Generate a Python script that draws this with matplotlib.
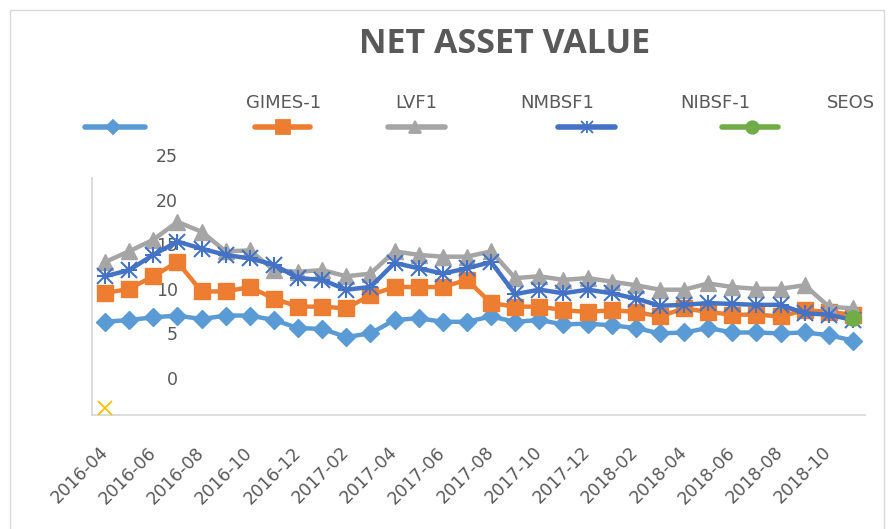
import numpy as np
import matplotlib
matplotlib.use('Agg')
import matplotlib.pyplot as plt
from matplotlib.lines import Line2D
from matplotlib.patches import Rectangle

# monthly observations, 2016-04 .. 2018-11
months = ['2016-04', '2016-05', '2016-06', '2016-07', '2016-08', '2016-09',
          '2016-10', '2016-11', '2016-12', '2017-01', '2017-02', '2017-03',
          '2017-04', '2017-05', '2017-06', '2017-07', '2017-08', '2017-09',
          '2017-10', '2017-11', '2017-12', '2018-01', '2018-02', '2018-03',
          '2018-04', '2018-05', '2018-06', '2018-07', '2018-08', '2018-09',
          '2018-10', '2018-11']

s_blue = [6.3, 6.5, 6.8, 7.0, 6.6, 7.0, 7.0, 6.5, 5.6, 5.5, 4.6, 5.0,
          6.5, 6.7, 6.3, 6.3, 6.9, 6.3, 6.5, 6.0, 6.1, 5.9, 5.6, 5.0,
          5.1, 5.6, 5.1, 5.1, 5.0, 5.1, 4.8, 4.2]
s_orange = [9.5, 10.0, 11.4, 13.0, 9.7, 9.7, 10.2, 8.9, 8.0, 8.0, 7.8, 9.3,
            10.2, 10.2, 10.2, 11.0, 8.4, 8.0, 8.0, 7.6, 7.4, 7.6, 7.4, 6.9,
            7.8, 7.4, 7.1, 7.1, 6.9, 7.6, 7.4, 7.1]
s_gray = [13.0, 14.2, 15.5, 17.5, 16.4, 14.2, 14.3, 12.1, 11.9, 12.1, 11.4, 11.7,
          14.2, 13.8, 13.6, 13.6, 14.2, 11.2, 11.4, 11.0, 11.2, 10.8, 10.4, 9.9,
          9.9, 10.6, 10.2, 10.0, 10.0, 10.4, 8.0, 7.8]
s_navy = [11.4, 12.1, 13.8, 15.3, 14.5, 13.8, 13.4, 12.7, 11.2, 11.0, 9.9, 10.2,
          12.9, 12.3, 11.7, 12.3, 13.0, 9.4, 9.9, 9.5, 9.9, 9.5, 8.9, 8.1,
          8.2, 8.4, 8.3, 8.2, 8.2, 7.25, 7.1, 6.5]
s_green = [np.nan] * 31 + [6.7]
s_yellow = [-3.4] + [np.nan] * 31

legend_labels = ['GIMES-1', 'LVF1', 'NMBSF1', 'NIBSF-1', 'SEOS']
yticks = [0, 5, 10, 15, 20, 25]

TXT = '#595959'
W, H = 890, 529

fig = plt.figure(figsize=(W / 100, H / 100), dpi=100)
ax = fig.add_axes([92 / W, 1 - 415 / H, (865 - 92) / W, (415 - 150) / H])

x = np.arange(len(months))
ax.plot(x, s_blue, color='#5B9BD5', lw=3.2, marker='D', ms=9, zorder=3)
ax.plot(x, s_orange, color='#ED7D31', lw=3.2, marker='s', ms=12, zorder=4)
ax.plot(x, s_gray, color='#A5A5A5', lw=3.2, marker='^', ms=11, zorder=5)
ax.plot(x, s_navy, color='#4472C4', lw=3.2, marker='x', ms=11, mew=1.5, zorder=6)
ax.plot(x, s_navy, color='#4472C4', lw=0, marker='+', ms=12, mew=1.5, zorder=6)
ax.plot(x, s_green, color='#70AD47', lw=3.2, marker='o', ms=11, zorder=7)
ax.plot(x, s_yellow, color='#FFC000', lw=0, marker='x', ms=10, mew=1.3, zorder=7)

ax.set_xlim(-0.54, 31.5)
ax.set_ylim(-4.15, 25.56)

for side in ['top', 'right']:
    ax.spines[side].set_visible(False)
ax.spines['left'].set_color('#D9D9D9')
ax.spines['bottom'].set_color('#D9D9D9')
ax.spines['left'].set_linewidth(1.3)
ax.spines['bottom'].set_linewidth(1.3)
ax.spines['left'].set_bounds(-4.15, 22.4)

ax.set_yticks(yticks)
ax.set_yticklabels([str(v) for v in yticks])
ax.tick_params(axis='y', length=0, pad=-62, labelsize=12.5, labelcolor=TXT)

ax.set_xticks(x[::2])
ax.set_xticklabels(months[::2], rotation=45, ha='right', va='center',
                   rotation_mode='anchor')
ax.tick_params(axis='x', length=0, pad=25, labelsize=12.5, labelcolor=TXT)

fig.text(505 / W, 1 - 44 / H, 'NET ASSET VALUE', ha='center', va='center',
         fontsize=24.5, fontweight='bold', color=TXT, family='Open Sans')

# legend drawn by hand: handles on one row, labels shifted above
handles = [('#5B9BD5', 'D', 7, 85, 145, 113),
           ('#ED7D31', 's', 10, 255, 310, 283),
           ('#A5A5A5', '^', 9, 388, 445, 415),
           ('#4472C4', 'x', 8, 558, 615, 587),
           ('#70AD47', 'o', 9, 722, 778, 752)]
ly = 1 - 127 / H
for col, mk, ms, x0, x1, xm in handles:
    fig.add_artist(Line2D([x0 / W, x1 / W], [ly, ly], transform=fig.transFigure,
                          color=col, lw=4, solid_capstyle='round'))
    fig.add_artist(Line2D([xm / W], [ly], transform=fig.transFigure, color=col,
                          marker=mk, ms=ms, mew=1.3, lw=0))
fig.add_artist(Line2D([587 / W], [ly], transform=fig.transFigure, color='#4472C4',
                      marker='+', ms=9, mew=1.3, lw=0))

for lbl, xc in zip(legend_labels, [284, 416, 557, 715, 851]):
    fig.text(xc / W, 1 - 103 / H, lbl, ha='center', va='center',
             fontsize=13, color=TXT)

fig.add_artist(Rectangle((10 / W, -0.05), (884 - 10) / W, 1.05 - 10 / H,
                         transform=fig.transFigure, fill=False,
                         edgecolor='#D9D9D9', lw=1))

fig.savefig('out.png', dpi=100)
